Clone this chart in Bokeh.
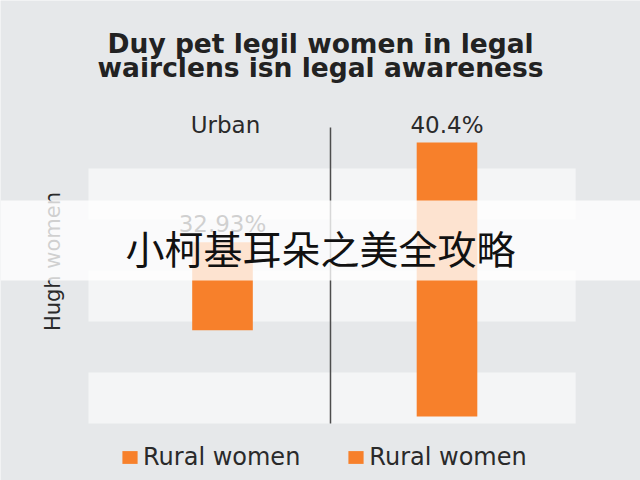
import math
from bokeh.plotting import figure
from bokeh.models import (Range1d, BoxAnnotation, Label, LabelSet, Legend,
                          LegendItem, ColumnDataSource)
from bokeh.core.properties import value
from bokeh.embed import file_html
from bokeh.resources import INLINE

# ---- data ----
categories = ["Urban", "Rural"]
values = [32.93, 40.4]              # printed value labels (%)
bar_low = [12.7, 0.0]               # drawn bar extents (%), as seen
bar_high = [25.7, 40.4]
legend_labels = ["Rural women", "Rural women"]
title_lines = ["Duy pet legil women in legal", "wairclens isn legal awareness"]
y_label = "Hugh women"
header_label = "Urban"
overlay_text = "小柯基耳朵之美全攻略"

value_labels = [f"{v}%" for v in values]
x_pos = list(range(len(categories)))

# ---- style ----
BG = "#e6e8ea"
BAND = "#f4f5f6"
ORANGE = "#f7802b"
INK = "#2a2a2a"
FONT = "DejaVu Sans"

p = figure(width=640, height=480, output_backend="svg", toolbar_location=None,
           x_range=Range1d(-0.9889, 1.8619), y_range=Range1d(-9.437, 61.34),
           min_border=0, background_fill_color=BG, border_fill_color=BG,
           outline_line_color=None)
p.xaxis.visible = False
p.yaxis.visible = False
p.grid.visible = False

# alternating light bands
for top, bot in [(36.57, 29.05), (21.53, 14.01), (6.49, -1.03)]:
    p.add_layout(BoxAnnotation(left=-0.597, right=1.573, top=top, bottom=bot,
                               fill_color=BAND, fill_alpha=1.0, line_color=None,
                               level="underlay"))

# divider line
p.segment(x0=[0.481], y0=[-1.03], x1=[0.481], y1=[42.6],
          line_color="#4d4d4d", line_width=1.5)

src = ColumnDataSource(dict(x=x_pos, low=bar_low, high=bar_high, label=value_labels))
bars = p.vbar(x="x", bottom="low", top="high", width=0.27, source=src,
              fill_color=ORANGE, line_color=None)

p.add_layout(LabelSet(x="x", y="high", text="label", source=src, y_offset=10,
                      text_align="center", text_baseline="alphabetic",
                      text_font=value(FONT), text_font_size="23px", text_color=INK))

p.add_layout(Label(x=x_pos[0], y=42.98, x_offset=3, text=header_label,
                   text_align="center", text_baseline="middle",
                   text_font=FONT, text_font_size="23px", text_color=INK))

p.add_layout(Label(x=-0.757, y=22.85, angle=math.pi / 2, text=y_label,
                   text_align="center", text_baseline="middle",
                   text_font=FONT, text_font_size="21px", text_color=INK))

# title
for line, yy in zip(title_lines, [55.07, 51.39]):
    p.add_layout(Label(x=0.437, y=yy, text=line, text_align="center",
                       text_baseline="middle", text_font=FONT,
                       text_font_size="26.5px", text_font_style="bold",
                       text_color="#222222"))

# translucent overlay band with caption
p.add_layout(BoxAnnotation(top=31.85, bottom=20.05, fill_color="white",
                           fill_alpha=0.78, line_color=None, level="annotation"))
p.add_layout(Label(x=0.437, y=24.92, text=overlay_text, text_align="center",
                   text_baseline="middle", text_font="Noto Sans CJK SC",
                   text_font_size="39px", text_color="#111111"))

items = [LegendItem(label=value(legend_labels[i]), renderers=[bars], index=i)
         for i in range(len(legend_labels))]
legend = Legend(items=items, orientation="horizontal", location=(120, 9),
                glyph_width=19, glyph_height=16, label_standoff=4, spacing=46,
                padding=0, margin=0, background_fill_alpha=0, border_line_color=None,
                label_text_font=FONT, label_text_font_size="24px",
                label_text_color=INK)
p.add_layout(legend)

html = file_html(p, INLINE)
html = html.replace("<body>", f'<body style="background-color:{BG};">', 1)
open("out.html", "w").write(html)
